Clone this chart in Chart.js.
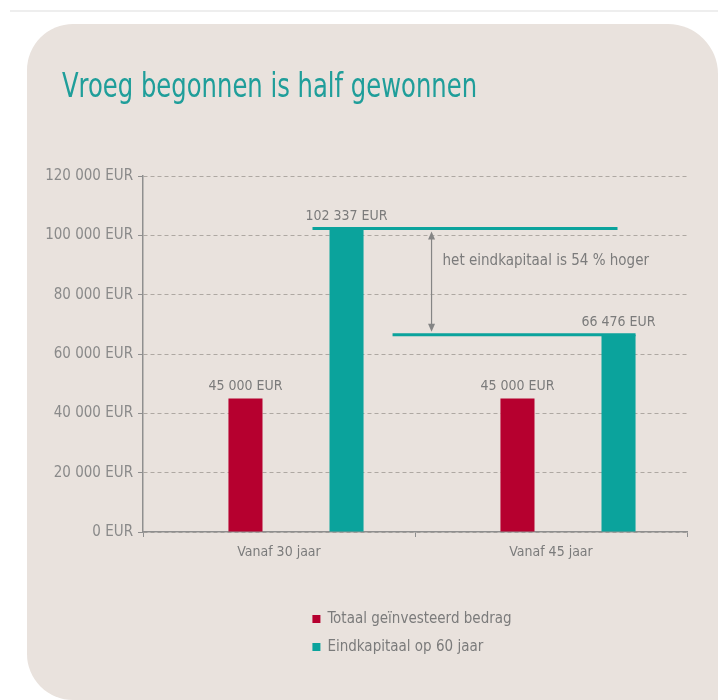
<!DOCTYPE html>
<html>
<head>
<meta charset="utf-8">
<script src="https://cdn.jsdelivr.net/npm/chart.js@4.4.1/dist/chart.umd.min.js"></script>
<style>
    body { margin: 0; background: #fff; }
    #topline { position: absolute; left: 10px; top: 10px; width: 708px; height: 2px; background: #eeeeee; }
    #card { position: absolute; left: 27px; top: 24px; width: 691px; height: 676px; background: #e9e2dd; border-radius: 46px 50px 0 46px; }
    #wrap { position: absolute; left: 0; top: 0; width: 718px; height: 700px; }
</style>
</head>
<body>
<div id="topline"></div>
<div id="card"></div>
<div id="wrap"><canvas id="eurChart"></canvas></div>
<script>
const categories = ['Vanaf 30 jaar', 'Vanaf 45 jaar'];
const invested = [45000, 45000];
const endCapital = [102337, 66476];
const seriesNames = ['Totaal geïnvesteerd bedrag', 'Eindkapitaal op 60 jaar'];
const yTicks = [0, 20000, 40000, 60000, 80000, 100000, 120000];
const titleText = 'Vroeg begonnen is half gewonnen';
const noteText = 'het eindkapitaal is 54 % hoger';

const FONT = "'Liberation Sans Narrow', 'DejaVu Sans Condensed', sans-serif";
const RED = '#b6002f';
const TEAL = '#0ba39c';
const GREY = '#7b7b7b';
// bar groups sit a little right of the category centre in the original
const GROUP_SHIFT = 0.0625;

function fmt(v) {
    return String(v).replace(/\B(?=(\d{3})+(?!\d))/g, ' ') + ' EUR';
}

Chart.defaults.font.family = FONT;
Chart.defaults.color = GREY;

const shiftGroups = {
    id: 'shiftGroups',
    afterDatasetsUpdate(chart) {
        const step = chart.scales.x.width / chart.data.labels.length;
        chart.data.datasets.forEach((ds, i) => {
            chart.getDatasetMeta(i).data.forEach(bar => { bar.x += step * GROUP_SHIFT; });
        });
    }
};

// title, value labels, the 54% note and the stacked legend
const decorations = {
    id: 'decorations',
    afterDatasetsDraw(chart) {
        const ctx = chart.ctx;
        const area = chart.chartArea;
        ctx.save();

        // values above bars
        ctx.font = '14px ' + FONT;
        ctx.fillStyle = GREY;
        ctx.textAlign = 'center';
        ctx.textBaseline = 'bottom';
        chart.data.datasets.forEach((ds, i) => {
            chart.getDatasetMeta(i).data.forEach((bar, j) => {
                ctx.fillText(fmt(ds.data[j]), bar.x, bar.y - 5);
            });
        });

        // reference lines between the two end capitals
        const teal = chart.getDatasetMeta(1).data;
        const w = teal[0].width;
        ctx.strokeStyle = TEAL;
        ctx.lineWidth = 3;
        ctx.beginPath();
        ctx.moveTo(teal[0].x - w / 2 - 17, teal[0].y);
        ctx.lineTo(teal[1].x - w / 2 + 16, teal[0].y);
        ctx.moveTo(teal[0].x + w / 2 + 29, teal[1].y);
        ctx.lineTo(teal[1].x + w / 2, teal[1].y);
        ctx.stroke();

        // double arrow
        const ax = teal[0].x + w / 2 + 68;
        const y1 = teal[0].y + 3, y2 = teal[1].y - 3;
        ctx.strokeStyle = '#858585';
        ctx.fillStyle = '#858585';
        ctx.lineWidth = 1.2;
        ctx.beginPath();
        ctx.moveTo(ax, y1 + 6);
        ctx.lineTo(ax, y2 - 6);
        ctx.stroke();
        ctx.beginPath();
        ctx.moveTo(ax, y1); ctx.lineTo(ax - 3.5, y1 + 8); ctx.lineTo(ax + 3.5, y1 + 8); ctx.closePath();
        ctx.moveTo(ax, y2); ctx.lineTo(ax - 3.5, y2 - 8); ctx.lineTo(ax + 3.5, y2 - 8); ctx.closePath();
        ctx.fill();

        ctx.fillStyle = GREY;
        ctx.font = '15px ' + FONT;
        ctx.textAlign = 'left';
        ctx.textBaseline = 'middle';
        ctx.fillText(noteText, ax + 11, teal[0].y + 33);

        // title, a bit taller than the font to look condensed
        ctx.save();
        ctx.fillStyle = '#1f9e9a';
        ctx.font = '27px ' + FONT;
        ctx.textBaseline = 'alphabetic';
        ctx.translate(62, 97);
        ctx.scale(1, 1.28);
        ctx.fillText(titleText, 0, 0);
        ctx.restore();

        // legend, one entry per line
        ctx.font = '15px ' + FONT;
        ctx.textBaseline = 'middle';
        const widths = chart.data.datasets.map(ds => ctx.measureText(ds.label).width);
        const left = (area.left + area.right) / 2 - (15 + Math.max(...widths)) / 2 - 3;
        chart.data.datasets.forEach((ds, i) => {
            const y = 619 + i * 28;
            ctx.fillStyle = ds.backgroundColor;
            ctx.fillRect(left, y - 4, 8, 8);
            ctx.fillStyle = GREY;
            ctx.fillText(ds.label, left + 15, y);
        });

        ctx.restore();
    }
};

new Chart(document.getElementById('eurChart'), {
    type: 'bar',
    data: {
        labels: categories,
        datasets: [{
            label: seriesNames[0],
            data: invested,
            backgroundColor: RED
        }, {
            label: seriesNames[1],
            data: endCapital,
            backgroundColor: TEAL
        }]
    },
    options: {
        responsive: true,
        maintainAspectRatio: false,
        animation: false,
        categoryPercentage: 0.743,
        barPercentage: 0.337,
        layout: {
            padding: { left: 0, right: 31, top: 176, bottom: 138 }
        },
        plugins: {
            legend: { display: false },
            tooltip: { enabled: false }
        },
        scales: {
            x: {
                offset: true,
                grid: {
                    offset: true,
                    drawOnChartArea: false,
                    tickLength: 5,
                    color: '#8f8f8f'
                },
                border: { color: '#8f8f8f', width: 1.5 },
                ticks: { color: GREY, font: { size: 14 }, padding: 7 },
                afterFit: scale => { scale.height = 30; }
            },
            y: {
                min: 0,
                max: 120000,
                afterBuildTicks: scale => { scale.ticks = yTicks.map(v => ({ value: v })); },
                ticks: {
                    color: '#8a8a8a',
                    font: { size: 15 },
                    padding: 5,
                    callback: v => fmt(v)
                },
                grid: { color: '#aea8a2', tickLength: 5, tickColor: '#8f8f8f' },
                border: { dash: [4, 3], color: '#8f8f8f', width: 1.5 },
                afterFit: scale => { scale.width = 143; }
            }
        }
    },
    plugins: [shiftGroups, decorations]
});
</script>
</body>
</html>
